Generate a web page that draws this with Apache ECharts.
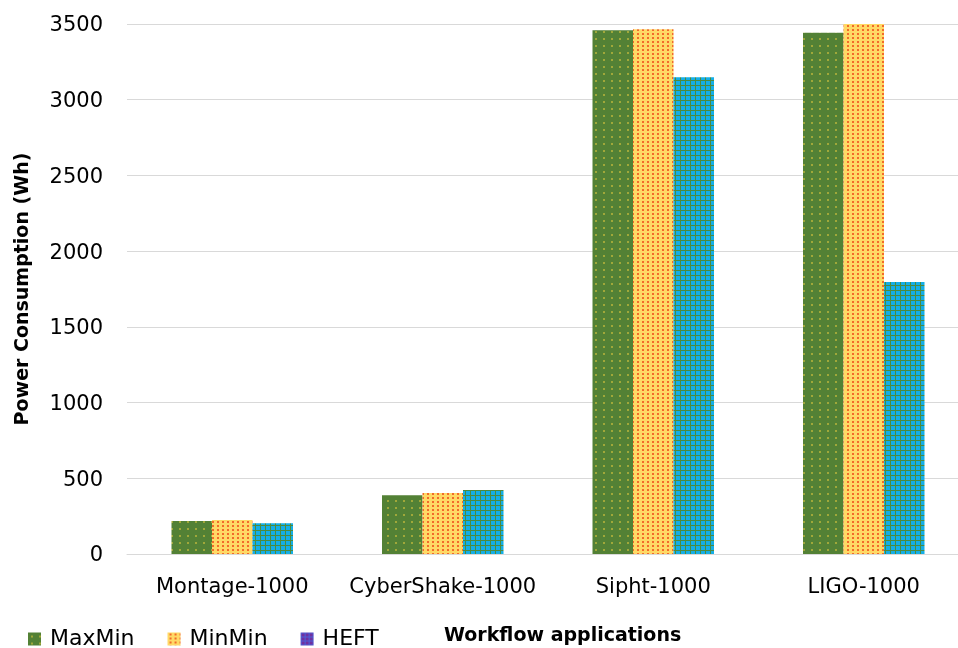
<!DOCTYPE html>
<html>
<head>
<meta charset="utf-8">
<script src="https://cdn.jsdelivr.net/npm/echarts@6/dist/echarts.min.js"></script>
<style>
  html, body { margin: 0; padding: 0; background: #fff; }
  #chart { width: 958px; height: 648px; }
</style>
</head>
<body>
<div id="chart"></div>
<script>
const categories = ['Montage-1000', 'CyberShake-1000', 'Sipht-1000', 'LIGO-1000'];
const seriesNames = ['MaxMin', 'MinMin', 'HEFT'];
const maxMinValues = [218, 388, 3459, 3443];
const minMinValues = [225, 403, 3466, 3500];
const heftValues = [203, 423, 3148, 1796];
const yTicks = [0, 500, 1000, 1500, 2000, 2500, 3000, 3500];

// Small repeating tiles used as bar fills
function tile(w, h, draw) {
  const c = document.createElement('canvas');
  c.width = w; c.height = h;
  draw(c.getContext('2d'));
  return { image: c, repeat: 'repeat' };
}

const dottedGreen = tile(8, 7, g => {
  g.fillStyle = '#538135'; g.fillRect(0, 0, 8, 7);
  g.fillStyle = '#a0a83a'; g.fillRect(3, 3, 2, 2);
});

const dottedYellow = tile(5, 4, g => {
  g.fillStyle = '#ffd966'; g.fillRect(0, 0, 5, 4);
  g.fillStyle = '#f26b2a'; g.fillRect(2, 1, 2, 2);
});

const gridCyan = tile(5, 5, g => {
  g.fillStyle = '#14aee6'; g.fillRect(0, 0, 5, 5);
  g.fillStyle = '#4d8a3e'; g.fillRect(0, 0, 5, 1); g.fillRect(0, 0, 1, 5);
});

const gridPurple = tile(4, 4, g => {
  g.fillStyle = '#7030a0'; g.fillRect(0, 0, 4, 4);
  g.fillStyle = '#4a60d8'; g.fillRect(0, 0, 4, 1); g.fillRect(0, 0, 1, 4);
});

const fonts = 'DejaVu Sans, sans-serif';

const chart = echarts.init(document.getElementById('chart'), null, { renderer: 'canvas' });
chart.setOption({
  animation: false,
  backgroundColor: '#ffffff',
  grid: { left: 127, top: 24, width: 842, height: 530, containLabel: false, outerBoundsMode: 'none' },
  legend: {
    left: 23, top: 623,
    itemWidth: 13, itemHeight: 13, itemGap: 33,
    icon: 'rect',
    textStyle: { fontSize: 22, color: '#000', fontFamily: fonts, padding: [0, 0, 0, 4] },
    data: [
      { name: 'MaxMin', itemStyle: { color: dottedGreen } },
      { name: 'MinMin', itemStyle: { color: dottedYellow } },
      { name: 'HEFT', itemStyle: { color: gridPurple } }
    ]
  },
  xAxis: {
    type: 'category',
    data: categories,
    axisLine: { show: true, lineStyle: { color: '#d9d9d9', width: 1 } },
    axisTick: { show: false },
    axisLabel: { fontSize: 21, color: '#000', fontFamily: fonts, margin: 23, interval: 0, hideOverlap: false }
  },
  yAxis: {
    type: 'value',
    min: 0, max: 3500, interval: 500,
    name: 'Power Consumption (Wh)',
    nameLocation: 'middle',
    nameGap: 94,
    nameTextStyle: { fontSize: 19, fontWeight: 'bold', color: '#000', fontFamily: fonts },
    axisLine: { show: false },
    axisTick: { show: false },
    splitLine: { lineStyle: { color: '#d9d9d9', width: 1 } },
    axisLabel: {
      fontSize: 21, color: '#000', fontFamily: fonts, margin: 24,
      verticalAlign: 'top', lineHeight: 24, padding: [-10, 0, 0, 0],
      formatter: v => (yTicks.includes(v) ? String(v) : '')
    }
  },
  series: [
    { name: seriesNames[0], type: 'bar', data: maxMinValues, barWidth: 40.5, barGap: '0%',
      itemStyle: { color: dottedGreen } },
    { name: seriesNames[1], type: 'bar', data: minMinValues, barWidth: 40.5, barGap: '0%',
      itemStyle: { color: dottedYellow } },
    { name: seriesNames[2], type: 'bar', data: heftValues, barWidth: 40.5, barGap: '0%',
      itemStyle: { color: gridCyan } }
  ],
  // x-axis title sits on the legend row
  graphic: [{
    type: 'text', left: 444, top: 627,
    style: { text: 'Workflow applications', fontSize: 19, fontWeight: 'bold',
             fill: '#000', fontFamily: fonts }
  }]
});
</script>
</body>
</html>
